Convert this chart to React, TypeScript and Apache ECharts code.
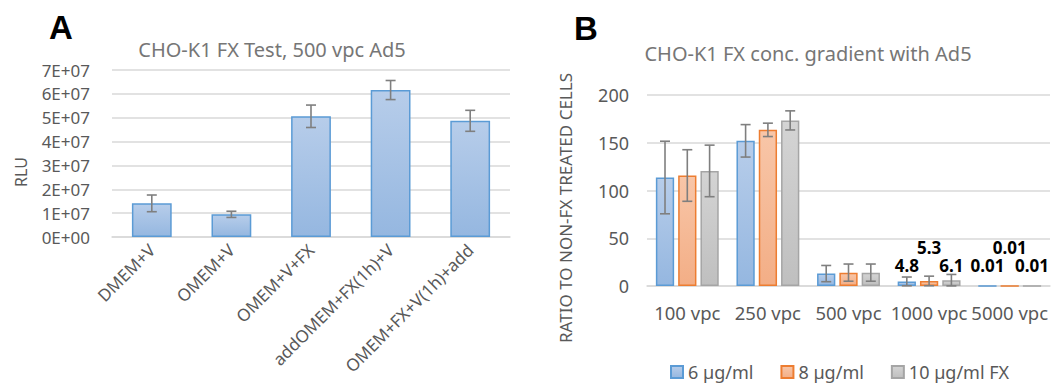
import React, { useEffect, useRef } from "react";
import * as echarts from "echarts";

const catsA = ["DMEM+V", "OMEM+V", "OMEM+V+FX", "addOMEM+FX(1h)+V", "OMEM+FX+V(1h)+add"];
const valsA = [1.41e7, 0.95e7, 5.06e7, 6.16e7, 4.87e7];
const errA = [0.35e7, 0.13e7, 0.47e7, 0.40e7, 0.44e7];
const ticksA = ["0E+00", "1E+07", "2E+07", "3E+07", "4E+07", "5E+07", "6E+07", "7E+07"];

const catsB = ["100 vpc", "250 vpc", "500 vpc", "1000 vpc", "5000 vpc"];
const seriesNamesB = ["6 µg/ml", "8 µg/ml", "10 µg/ml FX"];
const vals6 = [113.6, 152, 13, 4.8, 0.01];
const vals8 = [115.7, 163.5, 14, 5.3, 0.01];
const vals10 = [120.5, 173.4, 14, 6.1, 0.01];
const err6 = [38, 17, 8.5, 4.6, 0];
const err8 = [27, 7, 9, 5, 0];
const err10 = [27, 10, 9, 6, 0];
const labeledCatsB = [3, 4];

const GRAY = "#595959";
const FONT = "'Noto Sans', sans-serif";

const BAR_GAP = 0.22;
const CAT_GAP = 0.22;

function errRender(idx: number, n: number, barGap: number, catGap: number) {
  return (params: any, api: any) => {
    const cat = api.value(0);
    const v = api.value(1);
    const e = api.value(2);
    if (!e) return null;
    const band = api.size([1, 0])[0];
    const w = (band * (1 - catGap)) / (n + (n - 1) * barGap);
    const off = (idx - (n - 1) / 2) * w * (1 + barGap);
    const top = api.coord([cat, v + e]);
    const bot = api.coord([cat, v - e]);
    const x = top[0] + off;
    const hw = 5;
    const style = { stroke: "#7f7f7f", lineWidth: 1.6 };
    return {
      type: "group",
      children: [
        { type: "line", shape: { x1: x, y1: top[1], x2: x, y2: bot[1] }, style },
        { type: "line", shape: { x1: x - hw, y1: top[1], x2: x + hw, y2: top[1] }, style },
        { type: "line", shape: { x1: x - hw, y1: bot[1], x2: x + hw, y2: bot[1] }, style },
      ],
    };
  };
}

function grad(top: string, bottom: string) {
  return new echarts.graphic.LinearGradient(0, 0, 0, 1, [
    { offset: 0, color: top },
    { offset: 1, color: bottom },
  ]);
}

const colorsB = [
  { fill: grad("#b7cdea", "#95b7e0"), border: "#5b9bd5" },
  { fill: grad("#f8c6a8", "#f3ae86"), border: "#ed7d31" },
  { fill: grad("#d4d4d4", "#bfbfbf"), border: "#a5a5a5" },
];

export default function App() {
  const ref = useRef<HTMLDivElement>(null);
  useEffect(() => {
    document.body.style.margin = "0";
    const chart = echarts.init(ref.current!, null, { renderer: "svg" });

    const valsB = [vals6, vals8, vals10];
    const errsB = [err6, err8, err10];
    // label distances above bar top (1000 vpc, 5000 vpc) for each series
    const labelDist = [
      [7, 11.5],
      [24.5, 29.5],
      [6, 11.5],
    ];

    const barSeriesB = valsB.map((vals, si) => ({
      type: "bar",
      name: seriesNamesB[si],
      xAxisIndex: 1,
      yAxisIndex: 1,
      barGap: BAR_GAP * 100 + "%",
      barCategoryGap: CAT_GAP * 100 + "%",
      itemStyle: { color: colorsB[si].fill, borderColor: colorsB[si].border, borderWidth: 1.5 },
      data: vals.map((v, i) => {
        const li = labeledCatsB.indexOf(i);
        if (li < 0) return v;
        return {
          value: v,
          label: {
            show: true,
            position: "top",
            distance: labelDist[si][li],
            formatter: "{c}",
            color: "#000",
            fontWeight: "bold",
            fontSize: 17,
            fontFamily: FONT,
          },
        };
      }),
    }));

    const errSeriesB = errsB.map((errs, si) => ({
      type: "custom",
      xAxisIndex: 1,
      yAxisIndex: 1,
      z: 5,
      renderItem: errRender(si, 3, BAR_GAP, CAT_GAP),
      data: errs.map((e, i) => [i, valsB[si][i], e]),
      encode: { x: 0, y: 1 },
    }));

    chart.setOption({
      animation: false,
      textStyle: { fontFamily: FONT },
      grid: [
        { left: 112, right: 542, top: 70, bottom: 146, outerBoundsMode: "none", containLabel: false },
        { left: 647, right: 2, top: 95, bottom: 97, outerBoundsMode: "none", containLabel: false },
      ],
      xAxis: [
        {
          type: "category",
          gridIndex: 0,
          data: catsA,
          axisTick: { show: false },
          axisLine: { lineStyle: { color: "#d9d9d9", width: 1.5 } },
          axisLabel: { rotate: 45, interval: 0, margin: 10, color: GRAY, fontSize: 17, fontFamily: FONT },
        },
        {
          type: "category",
          gridIndex: 1,
          data: catsB,
          axisTick: { show: false },
          axisLine: { lineStyle: { color: "#d9d9d9", width: 1.5 } },
          axisLabel: { interval: 0, margin: 17, color: GRAY, fontSize: 18.5, fontFamily: FONT },
        },
      ],
      yAxis: [
        {
          type: "value",
          gridIndex: 0,
          min: 0,
          max: 7e7,
          interval: 1e7,
          splitLine: { lineStyle: { color: "#d9d9d9", width: 1.5 } },
          axisLabel: {
            color: GRAY,
            fontSize: 17,
            margin: 22,
            fontFamily: FONT,
            formatter: (v: number) => ticksA[Math.round(v / 1e7)],
          },
        },
        {
          type: "value",
          gridIndex: 1,
          min: 0,
          max: 200,
          interval: 50,
          splitLine: { lineStyle: { color: "#d9d9d9", width: 1.5 } },
          axisLabel: { color: GRAY, fontSize: 18, margin: 18, fontFamily: FONT },
        },
      ],
      legend: {
        data: seriesNamesB,
        left: 665,
        top: 358,
        itemWidth: 12,
        itemHeight: 12,
        itemGap: 27,
        icon: "rect",
        textStyle: { color: GRAY, fontSize: 18, fontFamily: FONT },
      },
      series: [
        {
          type: "bar",
          xAxisIndex: 0,
          yAxisIndex: 0,
          barWidth: "50%",
          itemStyle: { color: grad("#b7cdea", "#95b7e0"), borderColor: "#5b9bd5", borderWidth: 1.5 },
          data: valsA,
        },
        {
          type: "custom",
          xAxisIndex: 0,
          yAxisIndex: 0,
          z: 5,
          renderItem: errRender(0, 1, 0, 0.5),
          data: errA.map((e, i) => [i, valsA[i], e]),
          encode: { x: 0, y: 1 },
        },
        ...barSeriesB,
        ...errSeriesB,
      ],
      graphic: [
        { type: "text", x: 61, y: 27, style: { text: "A", fontSize: 33, fontWeight: "bold", fill: "#000", fontFamily: "'Liberation Sans', Arial", textAlign: "center", textVerticalAlign: "middle" } },
        { type: "text", x: 586, y: 28, style: { text: "B", fontSize: 33, fontWeight: "bold", fill: "#000", fontFamily: "'Liberation Sans', Arial", textAlign: "center", textVerticalAlign: "middle" } },
        { type: "text", x: 272, y: 49, style: { text: "CHO-K1 FX Test, 500 vpc Ad5", fontSize: 20, fill: "#767676", fontFamily: FONT, textAlign: "center", textVerticalAlign: "middle" } },
        { type: "text", x: 808, y: 53, style: { text: "CHO-K1 FX conc. gradient with Ad5", fontSize: 20, fill: "#767676", fontFamily: FONT, textAlign: "center", textVerticalAlign: "middle" } },
        { type: "text", x: 21, y: 172, rotation: Math.PI / 2, style: { text: "RLU", fontSize: 16, fill: GRAY, fontFamily: FONT, textAlign: "center", textVerticalAlign: "middle" } },
        { type: "text", x: 565, y: 208, rotation: Math.PI / 2, style: { text: "RATIO TO NON-FX TREATED CELLS", fontSize: 17, fill: GRAY, fontFamily: FONT, textAlign: "center", textVerticalAlign: "middle" } },
      ],
    });
    return () => chart.dispose();
  }, []);
  return <div ref={ref} style={{ width: 1052, height: 383 }} />;
}
